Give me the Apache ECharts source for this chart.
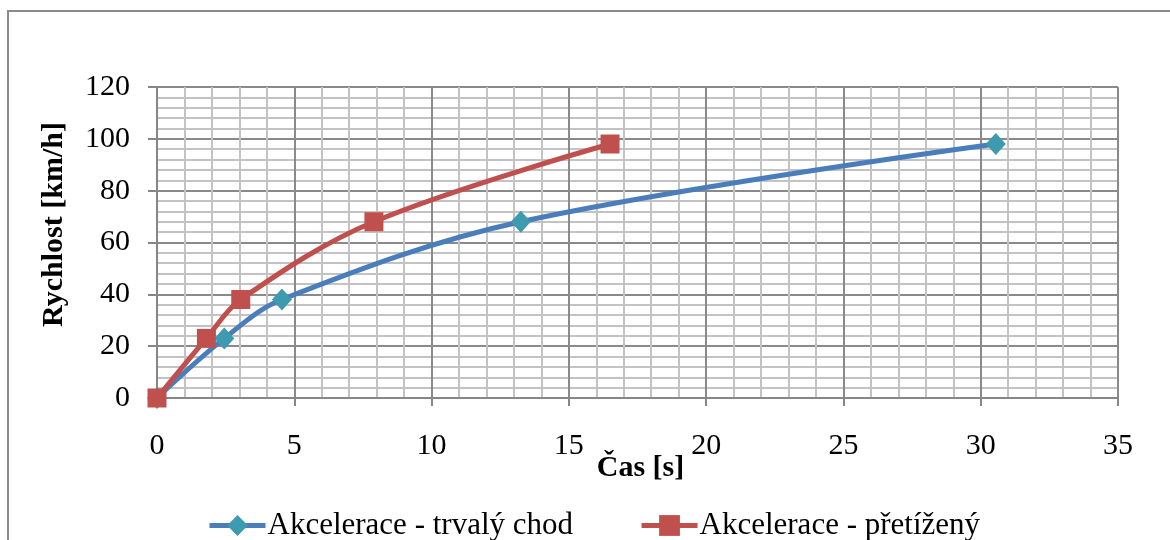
<!DOCTYPE html>
<html>
<head>
<meta charset="utf-8">
<script src="https://cdn.jsdelivr.net/npm/echarts@6/dist/echarts.min.js"></script>
<style>html,body{margin:0;padding:0;background:#fff}#c{width:1170px;height:540px}</style>
</head>
<body>
<div id="c"></div>
<script>
var seriesNames = ['Akcelerace - trvalý chod', 'Akcelerace - přetížený'];
var trvalyTime = [0, 2.45, 4.55, 13.25, 30.55];
var trvalySpeed = [0, 23, 38, 68, 98];
var pretizenyTime = [0, 1.8, 3.05, 7.9, 16.5];
var pretizenySpeed = [0, 23, 38, 68, 98];
var xTitle = 'Čas [s]';
var yTitle = 'Rychlost [km/h]';

function pairs(xs, ys) { return xs.map(function (x, i) { return [x, ys[i]]; }); }

var font = '"Liberation Serif", "Times New Roman", serif';
var chart = echarts.init(document.getElementById('c'));
chart.setOption({
  animation: false,
  backgroundColor: '#fff',
  textStyle: { fontFamily: font, color: '#000' },
  grid: { left: 157, right: 52, top: 87, bottom: 142, containLabel: false },
  graphic: [{
    type: 'rect', shape: { x: 8, y: 11, width: 1200, height: 600 },
    style: { fill: 'none', stroke: '#8a8a8a', lineWidth: 2 }, silent: true, z: -1
  }],
  xAxis: {
    type: 'value', min: 0, max: 35, interval: 5,
    name: xTitle, nameLocation: 'middle', nameGap: 55, nameMoveOverlap: false,
    nameTextStyle: { fontFamily: font, fontSize: 30, fontWeight: 'bold', color: '#000', padding: [0, 0, 0, 6] },
    axisLine: { show: true, lineStyle: { color: '#868686', width: 2 } },
    axisTick: { show: true, length: 8, lineStyle: { color: '#868686', width: 2 } },
    axisLabel: { fontFamily: font, fontSize: 30, color: '#000', margin: 33 },
    splitLine: { show: true, lineStyle: { color: '#8a8a8a', width: 2 } },
    minorTick: { show: false, splitNumber: 5 },
    minorSplitLine: { show: true, lineStyle: { color: '#c3c3c3', width: 2 } }
  },
  yAxis: {
    type: 'value', min: 0, max: 120, interval: 20,
    name: yTitle, nameLocation: 'middle', nameGap: 88, nameRotate: 90, nameMoveOverlap: false,
    nameTextStyle: { fontFamily: font, fontSize: 30, fontWeight: 'bold', color: '#000', padding: [0, 0, 0, 36] },
    axisLine: { show: true, lineStyle: { color: '#868686', width: 2 } },
    axisTick: { show: true, length: 9, lineStyle: { color: '#868686', width: 2 } },
    axisLabel: { fontFamily: font, fontSize: 30, color: '#000', margin: 27 },
    splitLine: { show: true, lineStyle: { color: '#8a8a8a', width: 2 } },
    minorTick: { show: false, splitNumber: 5 },
    minorSplitLine: { show: true, lineStyle: { color: '#c3c3c3', width: 2 } }
  },
  legend: {
    left: 202, top: 505, itemGap: 66, itemWidth: 56, itemHeight: 26,
    lineStyle: { width: 5 },
    textStyle: { fontFamily: font, fontSize: 31, color: '#000', padding: [0, 0, 0, -3] },
    data: seriesNames
  },
  series: [{
    name: seriesNames[0], type: 'line', smooth: 0.35,
    data: pairs(trvalyTime, trvalySpeed),
    lineStyle: { color: '#4a7ebb', width: 5 },
    itemStyle: { color: '#3d9bb0' },
    symbol: 'diamond', symbolSize: [20, 22], z: 3
  }, {
    name: seriesNames[1], type: 'line', smooth: 0.35,
    data: pairs(pretizenyTime, pretizenySpeed),
    lineStyle: { color: '#c0504d', width: 5 },
    itemStyle: { color: '#c0504d' },
    symbol: 'rect', symbolSize: [19, 19], z: 4
  }]
});
</script>
</body>
</html>
